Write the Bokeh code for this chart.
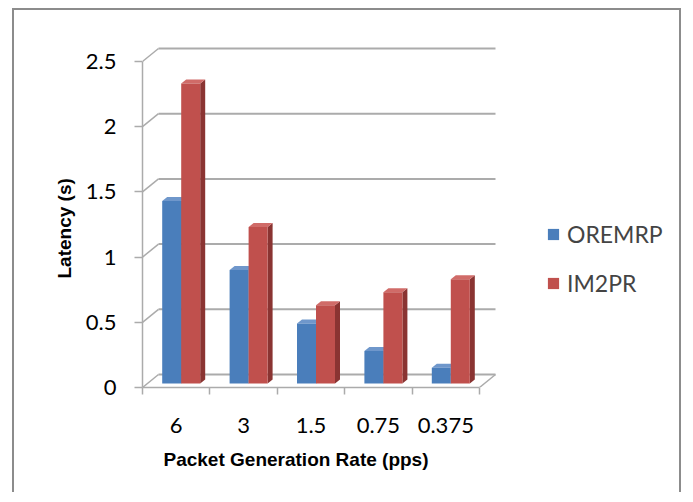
from bokeh.plotting import figure
from bokeh.models import (Range1d, FixedTicker, Legend, LegendItem, Title,
                          NumeralTickFormatter)
from bokeh.embed import file_html
from bokeh.resources import INLINE

# ---- data ----
categories = ["6", "3", "1.5", "0.75", "0.375"]
oremrp = [1.4, 0.87, 0.46, 0.25, 0.12]
im2pr = [2.3, 1.2, 0.6, 0.7, 0.8]
y_ticks = [0, 0.5, 1, 1.5, 2, 2.5]
series_names = ["OREMRP", "IM2PR"]
x_title = "Packet Generation Rate (pps)"
y_title = "Latency (s)"

# ---- geometry (pixels) ----
W, H = 669, 484
FL, FB = 128, 107
PX_X = 67.4      # pixels per category
PX_Y = 130.4     # pixels per unit of latency
frame_w = W - FL
frame_h = H - FB

DX = 16 / PX_X   # depth offset of back wall
DY = 13 / PX_Y
BAR_OFF = 19.7 / PX_X
BAR_W = 19 / PX_X
BAR_B = 4 / PX_Y
SIDE_X = 5 / PX_X
SIDE_Y = 4 / PX_Y

GRID = "#ABABAB"
BORDER = "2px solid #8C8C8C"

p = figure(width=W, height=H, output_backend="svg", toolbar_location=None,
           x_range=Range1d(0, frame_w / PX_X), y_range=Range1d(0, frame_h / PX_Y),
           min_border_left=FL, min_border_bottom=FB, min_border_top=0, min_border_right=0,
           styles={"border-left": BORDER, "border-top": BORDER, "border-right": BORDER,
                   "margin-left": "12px", "margin-top": "8px"})
p.xgrid.visible = False
p.ygrid.visible = False
p.outline_line_color = None
p.background_fill_color = "white"
p.border_fill_color = "white"

n = len(categories)

# back wall gridlines + left wall diagonals
p.segment(x0=[DX] * len(y_ticks), y0=[v + DY for v in y_ticks],
          x1=[n + DX] * len(y_ticks), y1=[v + DY for v in y_ticks],
          line_color=GRID, line_width=2)
p.segment(x0=[0] * len(y_ticks), y0=y_ticks,
          x1=[DX] * len(y_ticks), y1=[v + DY for v in y_ticks],
          line_color=GRID, line_width=1.5)
# floor right edge
p.segment(x0=[n], y0=[0], x1=[n + DX], y1=[DY], line_color=GRID, line_width=1.5)

colors = [("#4A7EBB", "#375F8F", "#6F97CB"), ("#C0504D", "#8A3432", "#D06B68")]
front_renderers = []
for s, vals in enumerate([oremrp, im2pr]):
    front, side, top = colors[s]
    lefts = [i + BAR_OFF + s * BAR_W for i in range(n)]
    rights = [l + BAR_W for l in lefts]
    tops = [v + BAR_B for v in vals]
    side_xs = [[r, r + SIDE_X, r + SIDE_X, r] for r in rights]
    side_ys = [[BAR_B, BAR_B + SIDE_Y, t + SIDE_Y, t] for t in tops]
    top_xs = [[l, l + SIDE_X, r + SIDE_X, r] for l, r in zip(lefts, rights)]
    top_ys = [[t, t + SIDE_Y, t + SIDE_Y, t] for t in tops]
    p.patches(side_xs, side_ys, fill_color=side, line_color=None)
    p.patches(top_xs, top_ys, fill_color=top, line_color=None)
    r = p.quad(left=lefts, right=rights, bottom=[BAR_B] * n, top=tops,
               fill_color=front, line_color=None)
    front_renderers.append(r)

# ---- axes ----
xa = p.xaxis[0]
xa.ticker = FixedTicker(ticks=[i + 0.5 for i in range(n)], minor_ticks=list(range(n + 1)))
xa.major_label_overrides = {i + 0.5: c for i, c in enumerate(categories)}
xa.bounds = (0, n)
xa.axis_line_color = GRID
xa.axis_line_width = 1.5
xa.major_tick_line_color = None
xa.major_tick_out = 7
xa.major_tick_in = 0
xa.minor_tick_line_color = GRID
xa.minor_tick_line_width = 1.5
xa.minor_tick_out = 7
xa.minor_tick_in = 0
xa.major_label_text_font = "Lato"
xa.major_label_text_font_size = "22px"
xa.major_label_text_color = "black"
xa.major_label_standoff = 23

ya = p.yaxis[0]
ya.ticker = FixedTicker(ticks=y_ticks, minor_ticks=[])
ya.formatter = NumeralTickFormatter(format="0.[0]")
ya.bounds = (0, 2.5)
ya.axis_line_color = GRID
ya.axis_line_width = 1.5
ya.major_tick_line_color = GRID
ya.major_tick_line_width = 1.5
ya.major_tick_out = 8
ya.major_tick_in = 0
ya.minor_tick_line_color = None
ya.major_label_text_font = "Lato"
ya.major_label_text_font_size = "22px"
ya.major_label_text_color = "black"
ya.major_label_standoff = 18

# axis titles (side-panel titles so they are not clipped by the frame)
p.add_layout(Title(text=x_title, align="left", offset=21, standoff=22,
                   text_font="Liberation Sans", text_font_style="bold",
                   text_font_size="19px", text_color="black"), "below")
p.add_layout(Title(text=y_title, align="left", offset=109, standoff=16,
                   text_font="Liberation Sans", text_font_style="bold",
                   text_font_size="19px", text_color="black"), "left")

# legend
legend = Legend(items=[LegendItem(label=series_names[i], renderers=[front_renderers[i]])
                       for i in range(2)],
                location=(404, 89), orientation="vertical",
                margin=0, padding=0, spacing=19,
                glyph_width=14, glyph_height=14, label_height=30, label_standoff=7,
                label_text_font="Lato", label_text_font_size="23px",
                border_line_color=None, background_fill_alpha=0)
p.add_layout(legend, "center")

open("out.html", "w").write(file_html(p, INLINE))
